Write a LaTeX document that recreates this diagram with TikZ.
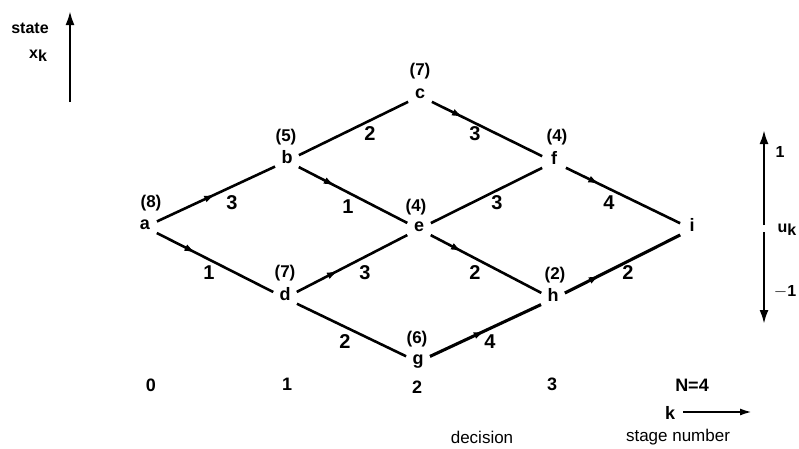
\documentclass[tikz,border=0pt]{standalone}
\usepackage{fontspec}
\setmainfont{Liberation Sans}
\usetikzlibrary{arrows.meta,decorations.markings}
\begin{document}
\begin{tikzpicture}[x=1pt,y=-1pt,
  st/.style={circle,inner sep=0pt,minimum size=26pt,font=\fontsize{18}{20}\selectfont\bfseries,text height=1.1ex,text depth=0pt},
  val/.style={font=\fontsize{17}{19}\selectfont\bfseries},
  wt/.style={font=\fontsize{20}{22}\selectfont\bfseries},
  stg/.style={font=\fontsize{18}{20}\selectfont\bfseries},
  lbl/.style={font=\fontsize{16}{18}\selectfont\bfseries},
  ed/.style={line width=2.6pt},
  thk/.style={line width=3.1pt},
  mk/.style={postaction={decorate},decoration={markings,mark=at position #1 with {\arrow{Latex[length=12pt,width=7pt]}}}},
  ax/.style={line width=2.4pt,-{Latex[length=14pt,width=9pt]}}
]
\useasboundingbox (0,0) rectangle (799,448);
% nodes
\node[st] (a) at (145,227) {a};
\node[st] (b) at (287,161) {b};
\node[st] (c) at (420,96) {c};
\node[st] (d) at (285,298) {d};
\node[st] (e) at (419,229) {e};
\node[st] (f) at (554,162) {f};
\node[st] (g) at (418,362) {g};
\node[st] (h) at (553,299) {h};
\node[st] (i) at (692,229) {i};
% values
\node[val] (va) at (151,203) {(8)};
\node[val] (vb) at (286,137) {(5)};
\node[val] (vc) at (420,71) {(7)};
\node[val] (vd) at (285,273) {(7)};
\node[val] (ve) at (416,207) {(4)};
\node[val] (vf) at (557,137) {(4)};
\node[val] (vg) at (417,339) {(6)};
\node[val] (vh) at (555,275) {(2)};
% edges
\draw[ed,mk=0.5] (a) -- (b);
\draw[ed,mk=0.34] (a) -- (d);
\draw[ed] (b) -- (c);
\draw[ed,mk=0.34] (b) -- (e);
\draw[ed,mk=0.29] (c) -- (f);
\draw[ed,mk=0.38] (d) -- (e);
\draw[ed] (d) -- (g);
\draw[ed] (e) -- (f);
\draw[ed,mk=0.29] (e) -- (h);
\draw[ed,mk=0.3] (f) -- (i);
\draw[thk,mk=0.5] (g) -- (h);
\draw[thk,mk=0.31] (h) -- (i);
% weights
\node[wt] (wab) at (232,203) {3};
\node[wt] (wad) at (209,273) {1};
\node[wt] (wbc) at (370,134) {2};
\node[wt] (wbe) at (348,207) {1};
\node[wt] (wcf) at (475,134) {3};
\node[wt] (wde) at (365,273) {3};
\node[wt] (wdg) at (345,342) {2};
\node[wt] (wef) at (497,203) {3};
\node[wt] (weh) at (475,273) {2};
\node[wt] (wfi) at (609,203) {4};
\node[wt] (wgh) at (490,342) {4};
\node[wt] (whi) at (628,273) {2};
% stages
\node[stg] (s0) at (151,385) {0};
\node[stg] (s1) at (287,384) {1};
\node[stg] (s2) at (417,387) {2};
\node[stg] (s3) at (552,384) {3};
\node[font=\fontsize{18}{20}\selectfont\bfseries] (s4) at (692,385) {N=4};
\node[font=\fontsize{18}{20}\selectfont\bfseries] (kk) at (670,413) {k};
\coordinate (k1) at (683,412);
\coordinate (k2) at (752,412);
\draw[line width=2pt,-{Latex[length=12pt,width=7pt]}] (k1) -- (k2);
\node[font=\fontsize{17}{19}\selectfont] (dec) at (482,437) {decision};
\node[font=\fontsize{17}{19}\selectfont] (stn) at (678,437) {stage number};
% state axis
\coordinate (x1) at (70,102);
\coordinate (x2) at (70,11);
\draw[ax] (x1) -- (x2);
\node[lbl] (state) at (30,28) {state};
\node[lbl] (xk) at (38,56) {x\raisebox{-0.4ex}{k}};
% u axis
\coordinate (u0) at (764,225);
\coordinate (u1) at (764,130);
\coordinate (u2) at (764,232);
\coordinate (u3) at (764,324);
\draw[ax] (u0) -- (u1);
\draw[ax] (u2) -- (u3);
\node[lbl] (one) at (780,152) {1};
\node[lbl] (uk) at (787,230) {u\raisebox{-0.4ex}{k}};
\node[lbl] (mone) at (785,292) {$-$1};
\end{tikzpicture}
\end{document}
